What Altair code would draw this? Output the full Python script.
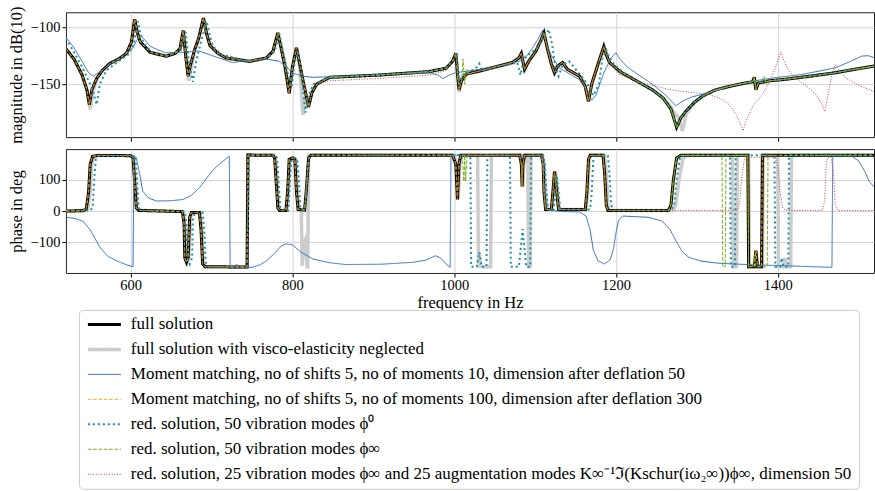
import altair as alt
import pandas as pd

# ---------------- series names (legend order) ----------------
SERIES = [
    "full solution",
    "full solution with visco-elasticity neglected",
    "Moment matching, no of shifts 5, no of moments 10, dimension after deflation 50",
    "Moment matching, no of shifts 5, no of moments 100, dimension after deflation 300",
    "red. solution, 50 vibration modes ϕ⁰",
    "red. solution, 50 vibration modes ϕ∞",
    "red. solution, 25 vibration modes ϕ∞ and 25 augmentation modes K∞⁻¹ℑ(Kschur(iω₂∞))ϕ∞, dimension 50",
]
COLORS = ["#000000", "#cccccc", "#2e6bc6", "#fbb314", "#1c93a8", "#74b21e", "#e0383a"]
DASHES = [[1, 0], [1, 0], [1, 0], [3.7, 1.6], [2, 3], [3.7, 1.6], [1, 1.65]]
WIDTHS = [3, 3.5, 1, 1, 2, 1, 1]
DRAW_ORDER = [1, 0, 2, 3, 4, 5, 6]

X_TICKS = [600, 800, 1000, 1200, 1400]
MAG_TICKS = [-150, -100]
PH_TICKS = [-100, 0, 100]

# ---------------- magnitude (dB) ----------------
FULL_MAG_F = [520, 530, 540, 546, 549, 552, 558, 565, 574, 585, 595, 601, 605, 608, 612, 624, 644, 655, 661, 665,
              668, 671, 674, 679, 684, 690, 694, 698, 708, 718, 747, 768, 776, 782, 786, 791, 796, 800, 805, 809,
              814, 820, 824, 830, 846, 908, 969, 990, 998, 1002, 1004, 1006, 1009, 1015, 1031, 1072, 1080, 1083,
              1085, 1087, 1092, 1101, 1107, 1111, 1115, 1120, 1124, 1128, 1134, 1140, 1155, 1162, 1166, 1170, 1178,
              1185, 1188, 1192, 1205, 1225, 1245, 1258, 1268, 1275, 1280, 1286, 1297, 1307, 1323, 1340, 1360, 1369,
              1371, 1373, 1376, 1390, 1406, 1440, 1471, 1495, 1520]
FULL_MAG_V = [-119, -128, -142, -155, -168, -155, -145, -138, -132, -128, -123, -113, -93, -104, -113, -122, -125.5,
              -123, -119, -103, -125, -143, -133, -120, -110, -92, -106, -116, -123, -127, -130, -127, -121, -105,
              -118, -135, -158, -135, -118, -132, -150, -170, -158, -150, -144, -142, -139, -136, -130, -123, -140,
              -155, -147, -141, -138.6, -131, -127, -123, -130, -137, -130, -121, -112, -105, -118, -132, -140, -134,
              -131, -137, -143, -152, -165, -150, -132, -117, -124, -131, -139, -147, -155, -162, -172, -188, -180,
              -174, -166, -160.5, -155, -152, -149, -148, -144, -155, -149, -147, -146, -143, -140, -137, -134]

BLUE_MAG_F = [520, 530, 540, 548, 554, 562, 572, 582, 593, 603, 608, 612, 616, 624, 634, 644, 665, 685, 705, 726,
              748, 768, 784, 793, 800, 812, 825, 870, 930, 969, 980, 986, 994, 1002, 1031, 1060, 1080, 1090, 1097,
              1104, 1109, 1113, 1120, 1130, 1145, 1155, 1163, 1170, 1175, 1185, 1194, 1200, 1205, 1214, 1224, 1245,
              1262, 1274, 1282, 1295, 1307, 1340, 1372, 1400, 1430, 1471, 1490, 1504, 1512, 1520]
BLUE_MAG_V = [-109, -118, -130, -140, -143, -139, -134, -130, -124, -118, -111, -107, -110, -116.7, -120, -122.5,
              -122, -121, -126, -131, -129, -128, -130, -135, -140, -143, -144, -143, -141, -140, -142, -145, -142,
              -140, -137, -133, -130, -125, -118, -110, -103, -112, -125, -135.7, -142, -146, -155, -164, -160, -140,
              -127, -122.5, -128, -135, -140, -150, -160, -169, -165, -161, -159, -152, -147, -144, -141.5, -135.7,
              -130, -125.4, -125, -127]

TEAL_MAG_F = [520, 530, 540, 550, 555, 558, 562, 570, 585, 597, 604, 609, 612, 616, 626, 644, 662, 668, 672, 677,
              681, 688, 694, 698, 702, 712, 747, 770, 778, 784, 788, 794, 799, 803, 807, 811, 816, 820, 826, 846,
              908, 969, 990, 1000, 1003, 1006, 1010, 1020, 1028, 1031, 1034, 1060, 1078, 1082, 1086, 1092, 1103,
              1110, 1117, 1121, 1125, 1129, 1134, 1142, 1155, 1165, 1172, 1179, 1183, 1188, 1192, 1198, 1210, 1225,
              1245, 1258, 1268, 1275, 1280, 1286, 1297, 1307, 1323, 1340, 1360, 1390, 1406, 1440, 1471, 1495, 1520]
TEAL_MAG_V = [-110, -122, -135, -150, -160, -168, -150, -138, -130, -124, -115, -95, -105, -114, -122, -125, -120,
              -104, -130, -148, -130, -110, -95, -108, -117, -124, -130, -127, -121, -106, -120, -140, -152, -130,
              -122, -140, -175, -160, -150, -144, -142, -139, -136, -128, -125, -150, -142, -139, -135, -132, -138,
              -134, -131, -142, -128, -124, -118, -110, -102, -115, -135, -143, -133, -130, -141, -150, -160, -150,
              -128, -120, -127, -133, -140, -147, -155, -162, -172, -188, -180, -174, -166, -160.5, -155, -152, -149,
              -147, -146, -143, -140, -137, -134]

# local corrections (frequency range, new points)
GREY_MAG_EDITS = [
    (546, 552, [546, 550, 554], [-156, -172, -155]),
    (668, 674, [669, 672, 676], [-125, -147, -132]),
    (805, 830, [805, 809, 813, 817, 821, 825, 830], [-118, -135, -177, -160, -165, -155, -150]),
    (1004, 1009, [1004, 1006, 1009], [-140, -157, -147]),
    (1268, 1286, [1268, 1272, 1278, 1282, 1287], [-170, -175, -180, -191, -176]),
]
GREEN_MAG_EDITS = [
    (1009, 1015, [1009, 1011, 1013, 1015, 1018], [-147, -128, -150, -137, -141]),
    (1380, 1390, [1380, 1383, 1386, 1389], [-147, -143, -150, -147]),
]
RED_MAG_EDITS = [
    (846, 990, [846, 908, 969, 990], [-147, -145, -142, -138]),
    (1193, 1520, [1200, 1204, 1230, 1265, 1290, 1315, 1330, 1340, 1348, 1354, 1357, 1361, 1370, 1381, 1390, 1397,
                  1401, 1404, 1408, 1414, 1425, 1438, 1448, 1454, 1458, 1462, 1467, 1471, 1476, 1484, 1500, 1520],
     [-138, -141.5, -148, -154.7, -157, -159, -163, -168, -176, -185, -191, -182, -168, -159, -148, -135.7, -127,
      -121.7, -130, -138.6, -146, -153, -160, -167, -174, -160, -142, -132.7, -138, -144.5, -151, -156.7]),
]

# ---------------- phase (deg) ----------------
FULL_PH_F = [520, 540, 545, 548, 550, 553, 560, 600, 603, 605, 607, 610, 640, 664, 666, 667, 669, 671, 673, 675,
             685, 687, 689, 692, 744, 745, 776, 778, 780, 782, 784, 792, 794, 796, 800, 803, 805, 807, 815, 817,
             820, 823, 998, 1002, 1004, 1006, 1008, 1081, 1083, 1084, 1085, 1087, 1108, 1110, 1111, 1113, 1120,
             1122, 1124, 1126, 1129, 1162, 1164, 1166, 1168, 1184, 1186, 1188, 1190, 1265, 1268, 1271, 1275, 1280,
             1363, 1364, 1371, 1373, 1375, 1380, 1381, 1520]
FULL_PH_V = [0, 1, 5, 60, 150, 175, 178, 177, 170, 90, 10, 2, 0, -2, -40, -150, -164, -150, -20, -5, -5, -60, -170,
             -178, -179, 179, 178, 170, 90, 10, 2, 2, 60, 165, 170, 165, 60, 5, 3, 60, 170, 178, 178, 150, 37, 150,
             178, 178, 150, 79, 150, 178, 178, 150, 60, 5, 5, 60, 127, 80, 5, 5, 60, 165, 178, 178, 120, 20, 2, 2,
             20, 100, 170, 178, 178, -178, -178, -127, -178, -178, 178, 178]

GREY_PH_F = [520, 542, 547, 550, 552, 555, 562, 600, 604, 606, 608, 611, 640, 665, 667, 668, 670, 672, 674, 676,
             686, 688, 690, 693, 744, 745, 777, 779, 781, 783, 785, 793, 795, 797, 801, 804, 806, 808, 811, 812,
             814, 816, 818, 819, 820, 823, 1000, 1003, 1005, 1007, 1009, 1029, 1030, 1031, 1033, 1045, 1046, 1082,
             1084, 1085, 1086, 1088, 1091, 1092, 1094, 1095, 1109, 1111, 1113, 1115, 1121, 1123, 1125, 1127, 1130,
             1163, 1165, 1167, 1169, 1186, 1188, 1190, 1192, 1270, 1274, 1278, 1283, 1288, 1344, 1345, 1349, 1350,
             1364, 1365, 1381, 1382, 1400, 1401, 1407, 1409, 1411, 1416, 1417, 1520]
GREY_PH_V = [0, 1, 5, 60, 150, 175, 178, 177, 170, 90, 10, 2, 0, -2, -40, -150, -164, -150, -20, -5, -5, -60, -170,
             -178, -179, 179, 178, 170, 90, 10, 2, 2, 60, 165, 170, 165, 60, 5, 3, -175, -100, -90, -178, -178, 178,
             178, 178, 150, 37, 150, 178, 178, -178, -135, -178, -178, 178, 178, 150, 79, 150, 178, 178, -178, -178,
             178, 178, 150, 60, 5, 5, 60, 127, 80, 5, 5, 60, 165, 178, 178, 120, 20, 2, 2, 20, 100, 170, 178, 178,
             -178, -178, 178, 178, -178, -178, 178, 178, -178, -178, -150, -178, -178, 178, 178]

BLUE_PH_F = [520, 530, 541, 550, 562, 572, 582.5, 595, 603, 604, 607, 611, 615, 622, 632, 650, 665, 675, 685, 694,
             702, 712, 722, 723, 728, 731, 734, 750, 760, 768, 778, 786, 792, 800, 810, 825, 845, 866, 910, 949,
             965, 977, 983, 990, 995, 996, 1000, 1105, 1109, 1111, 1113, 1117, 1140, 1155, 1163, 1168, 1172, 1178,
             1186, 1193, 1197, 1200, 1203, 1208, 1240, 1257, 1267, 1274, 1282, 1290, 1305, 1327, 1370, 1410, 1467,
             1468, 1480, 1492, 1500, 1508, 1513, 1520]
BLUE_PH_V = [-20, -23, -32, -60, -116, -145, -159, -172, -178, 178, 170, 120, 63, 42, 32, 33, 37, 50, 74, 105, 132,
             155, 175, -178, -178, -170, -178, -180, -172, -159, -135, -112, -105, -108, -130, -153, -165, -171,
             -170, -164, -157, -143, -150, -169, -180, 178, 179, 178, 160, 80, 16, 2, -2, -3, -16, -60, -125, -160,
             -169, -155, -120, -70, -32, -16, -20, -32, -60, -95, -130, -148, -160, -167, -172, -175, -180, 178, 178,
             175, 160, 125, 95, 74]

TEAL_PH_F = [520, 550, 553, 555, 557, 560, 600, 606, 608, 610, 613, 667, 669, 670, 673, 676, 677, 680, 689, 691,
             693, 696, 744, 746, 779, 781, 783, 785, 787, 795, 797, 799, 803, 806, 808, 810, 816, 818, 821, 824,
             1020, 1021, 1028, 1031, 1034, 1040, 1041, 1069, 1070, 1080, 1084.6, 1089, 1094, 1095, 1110, 1112, 1114,
             1116, 1123, 1125, 1127, 1129, 1131, 1168, 1170, 1172, 1174, 1190, 1192, 1194, 1197, 1268, 1272, 1275,
             1279, 1284, 1341, 1342, 1347, 1348, 1396, 1397, 1403, 1405, 1407, 1413, 1414, 1520]
TEAL_PH_V = [0, 2, 10, 100, 170, 177, 177, 175, 100, 10, 2, -2, -40, -150, -170, -150, -20, -5, -5, -60, -170, -178,
             -179, 179, 178, 170, 90, 10, 2, 2, 100, 165, 170, 165, 100, 5, 5, 100, 170, 178, 178, -178, -178, -132,
             -178, -178, 178, 178, -178, -178, -58, -178, -178, 178, 178, 150, 60, 5, 5, 60, 110, 60, 5, 5, 60, 165,
             178, 178, 120, 20, 2, 2, 20, 100, 170, 178, 178, -178, -178, 178, 178, -178, -178, -150, -178, -178,
             178, 178]

GREEN_PH_EDITS = [
    (1010, 1016, [1010, 1012, 1013, 1014, 1016], [178, 95, 178, 95, 178]),
    (1281, 1520, [1331, 1332, 1335, 1336, 1363, 1364, 1369, 1371, 1373, 1387, 1388, 1520],
     [178, -178, -178, 178, 178, -178, -178, -140, -178, -178, 178, 178]),
]
RED_PH_EDITS = [
    (1191, 1520, [1265, 1350, 1353, 1356, 1359, 1365, 1396, 1400, 1403, 1406, 1410, 1455, 1458, 1460, 1462, 1466,
                  1469, 1471, 1474, 1520],
     [2, 2, 30, 120, 168, 172, 172, 150, 60, 10, 2, 2, 30, 150, 172, 172, 120, 20, 2, 1]),
]


def apply_edits(fs, vs, edits):
    pts = list(zip(fs, vs))
    for lo, hi, nf, nv in edits:
        pts = [p for p in pts if p[0] < lo or p[0] > hi] + list(zip(nf, nv))
    pts.sort(key=lambda p: p[0])
    return [p[0] for p in pts], [p[1] for p in pts]


MAG = {
    SERIES[0]: (FULL_MAG_F, FULL_MAG_V),
    SERIES[1]: apply_edits(FULL_MAG_F, FULL_MAG_V, GREY_MAG_EDITS),
    SERIES[2]: (BLUE_MAG_F, BLUE_MAG_V),
    SERIES[3]: (FULL_MAG_F, FULL_MAG_V),
    SERIES[4]: (TEAL_MAG_F, TEAL_MAG_V),
    SERIES[5]: apply_edits(FULL_MAG_F, FULL_MAG_V, GREEN_MAG_EDITS),
    SERIES[6]: apply_edits(FULL_MAG_F, FULL_MAG_V, RED_MAG_EDITS),
}
PH = {
    SERIES[0]: (FULL_PH_F, FULL_PH_V),
    SERIES[1]: (GREY_PH_F, GREY_PH_V),
    SERIES[2]: (BLUE_PH_F, BLUE_PH_V),
    SERIES[3]: (FULL_PH_F, FULL_PH_V),
    SERIES[4]: (TEAL_PH_F, TEAL_PH_V),
    SERIES[5]: apply_edits(FULL_PH_F, FULL_PH_V, GREEN_PH_EDITS),
    SERIES[6]: apply_edits(FULL_PH_F, FULL_PH_V, RED_PH_EDITS),
}


def frame(d):
    rows = []
    for k in DRAW_ORDER:
        name = SERIES[k]
        fs, vs = d[name]
        for i, (f, v) in enumerate(zip(fs, vs)):
            rows.append({"series": name, "f": f, "v": v, "i": i})
    return pd.DataFrame(rows)


mag_df = frame(MAG)
ph_df = frame(PH)

FONT = "Liberation Serif"
LEG = alt.Legend(
    title=None, orient="none", legendX=13, legendY=298, direction="vertical",
    symbolType="M-1,0H5", symbolSize=121, labelFont=FONT, labelFontSize=17, labelLimit=1000,
    labelOffset=29, rowPadding=7, padding=6, strokeColor="#cccccc", fillColor="#ffffff",
    cornerRadius=4, labelColor="black",
)


def enc():
    return dict(
        color=alt.Color("series:N", scale=alt.Scale(domain=SERIES, range=COLORS), legend=LEG),
        strokeDash=alt.StrokeDash("series:N", scale=alt.Scale(domain=SERIES, range=DASHES), legend=LEG),
        strokeWidth=alt.StrokeWidth("series:N", scale=alt.Scale(type="ordinal", domain=SERIES, range=WIDTHS),
                                    legend=LEG),
        order=alt.Order("i:Q"),
    )


x_scale = alt.Scale(domain=[520, 1519], nice=False, zero=False)

top = alt.Chart(mag_df).mark_line(clip=True).encode(
    x=alt.X("f:Q", scale=x_scale,
            axis=alt.Axis(values=X_TICKS, labels=False, title=None, ticks=True, grid=True)),
    y=alt.Y("v:Q", scale=alt.Scale(domain=[-196.5, -86.9], nice=False, zero=False),
            axis=alt.Axis(values=MAG_TICKS, title="magnitude in dB(10)", titlePadding=5,
                          minExtent=36, maxExtent=36, titleLimit=400)),
    **enc(),
).properties(width=809, height=125)

bottom = alt.Chart(ph_df).mark_line(clip=True).encode(
    x=alt.X("f:Q", scale=x_scale,
            axis=alt.Axis(values=X_TICKS, title="frequency in Hz", format="d", titlePadding=2)),
    y=alt.Y("v:Q", scale=alt.Scale(domain=[-198, 198], nice=False, zero=False),
            axis=alt.Axis(values=PH_TICKS, title="phase in deg", titlePadding=5,
                          minExtent=36, maxExtent=36, titleLimit=400)),
    **enc(),
).properties(width=809, height=124)

chart = alt.vconcat(top, bottom, spacing=4).properties(
    padding={"left": 8, "top": 5, "right": 0, "bottom": 0},
    background="white",
).configure_view(
    stroke="#222222", strokeWidth=1,
).configure_axis(
    labelFont=FONT, labelFontSize=14.5, titleFont=FONT, titleFontSize=16.5, titleFontWeight="normal",
    labelColor="black", titleColor="black", gridColor="#d4d4d4", gridWidth=1,
    tickColor="black", tickSize=4, labelPadding=2, domain=False,
)

chart.save("out.html", embed_options={"renderer": "svg", "actions": False})
